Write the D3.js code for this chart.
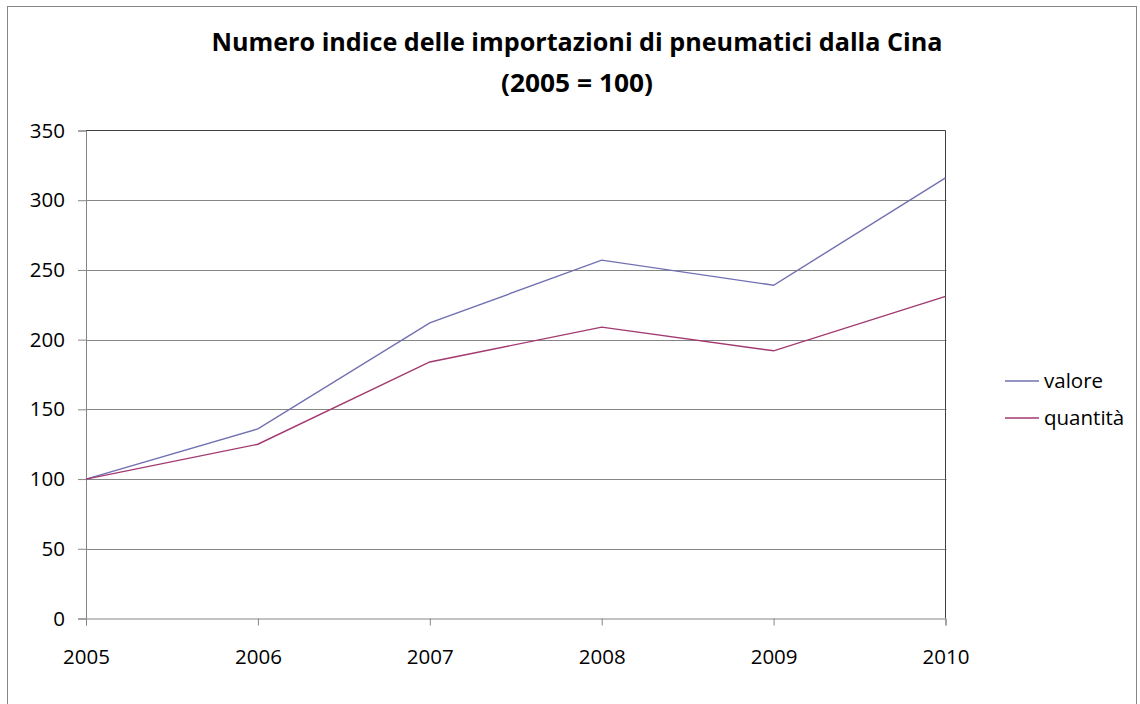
<!DOCTYPE html>
<html><head><meta charset="utf-8">
<script src="https://cdn.jsdelivr.net/npm/d3@7"></script>
<style>body{margin:0;background:#fff}svg{display:block}</style>
</head><body>
<script>
const years = ["2005","2006","2007","2008","2009","2010"];
const valore = [100, 136, 212, 257, 239, 316];
const quantita = [100, 125, 184, 209, 192, 231];
const yTicks = [0, 50, 100, 150, 200, 250, 300, 350];
const seriesNames = ["valore", "quantità"];
const colors = ["#7070B2", "#A2396F"];

const W = 1140, H = 704;
const svg = d3.select("body").append("svg").attr("width", W).attr("height", H);
const font = "Open Sans, sans-serif";

// chart area border
svg.append("rect").attr("x", 7.5).attr("y", 6.5).attr("width", 1129).attr("height", 720)
  .attr("fill", "none").attr("stroke", "#868686").attr("stroke-width", 1);

const pL = 86, pR = 945.5, pT = 130.5, pB = 618.5;
const x = d3.scalePoint().domain(years).range([pL, pR]);
const y = d3.scaleLinear().domain([0, 350]).range([pB, pT]);

// gridlines
svg.append("g").selectAll("line").data(yTicks.filter(d => d > 0 && d < 350)).join("line")
  .attr("x1", pL).attr("x2", pR + 1).attr("y1", d => Math.round(y(d)) + 0.5).attr("y2", d => Math.round(y(d)) + 0.5)
  .attr("stroke", "#868686").attr("stroke-width", 1);

// plot border top & right
svg.append("line").attr("x1", pL).attr("x2", pR).attr("y1", pT).attr("y2", pT).attr("stroke", "#404040");
svg.append("line").attr("x1", pR).attr("x2", pR).attr("y1", pT).attr("y2", pB).attr("stroke", "#404040");

// y axis
const yAxis = d3.axisLeft(y).tickValues(yTicks).tickSize(8).tickPadding(13);
const gy = svg.append("g").attr("transform", `translate(${pL},0)`).call(yAxis);
gy.select(".domain").attr("stroke", "#868686");
gy.selectAll(".tick line").attr("stroke", "#868686");
gy.selectAll("text").attr("font-family", font).attr("font-size", 20.5).attr("fill", "#000");

// x axis
const xAxis = d3.axisBottom(x).tickSize(7).tickPadding(24);
const gx = svg.append("g").attr("transform", `translate(0,${pB})`).call(xAxis);
gx.select(".domain").attr("stroke", "#868686");
gx.selectAll(".tick line").attr("stroke", "#868686");
gx.selectAll("text").attr("font-family", font).attr("font-size", 20.5).attr("fill", "#000");

// lines
const line = d3.line().x((d, i) => x(years[i])).y(d => y(d));
[valore, quantita].forEach((s, k) => {
  svg.append("path").attr("d", line(s)).attr("fill", "none")
    .attr("stroke", colors[k]).attr("stroke-width", 1.4);
});

// legend
const lg = svg.append("g");
seriesNames.forEach((n, k) => {
  const cy = 381 + k * 37;
  lg.append("line").attr("x1", 1005).attr("x2", 1039).attr("y1", cy).attr("y2", cy)
    .attr("stroke", colors[k]).attr("stroke-width", 1.4);
  lg.append("text").attr("x", 1044).attr("y", cy).attr("dy", "0.35em")
    .attr("font-family", font).attr("font-size", 20.5).text(n);
});

// title
svg.append("text").attr("x", 577).attr("y", 51).attr("text-anchor", "middle")
  .attr("font-family", font).attr("font-weight", "bold").attr("font-size", 25)
  .attr("textLength", 731).attr("lengthAdjust", "spacingAndGlyphs")
  .text("Numero indice delle importazioni di pneumatici dalla Cina");
svg.append("text").attr("x", 577).attr("y", 92).attr("text-anchor", "middle")
  .attr("font-family", font).attr("font-weight", "bold").attr("font-size", 25)
  .attr("textLength", 152).attr("lengthAdjust", "spacingAndGlyphs")
  .text("(2005 = 100)");
</script>
</body></html>
